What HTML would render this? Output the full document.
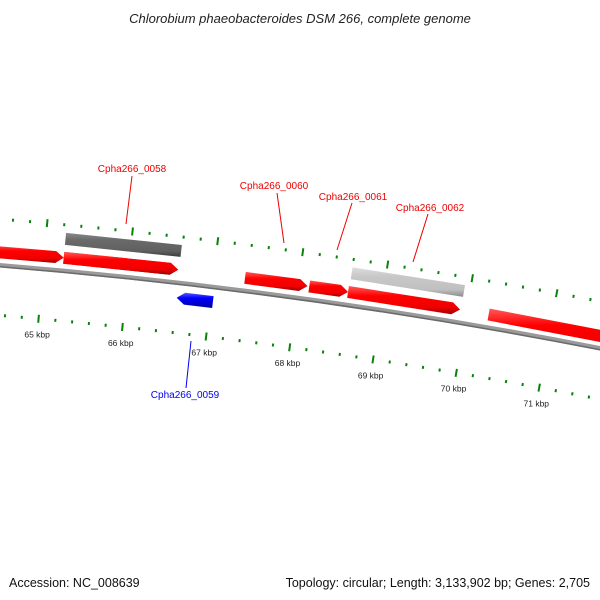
<!DOCTYPE html>
<html><head><meta charset="utf-8"><style>
html,body{margin:0;padding:0;background:#fff}
svg{display:block;font-family:"Liberation Sans","DejaVu Sans",sans-serif}
</style></head><body>
<svg id="chart" width="600" height="600" viewBox="0 0 600 600" xmlns="http://www.w3.org/2000/svg">
<defs>
<linearGradient id="gRed" x1="0" y1="0" x2="0" y2="1"><stop offset="0" stop-color="#ff5a5a"/><stop offset="0.35" stop-color="#ff0000"/><stop offset="0.75" stop-color="#f00000"/><stop offset="1" stop-color="#a00000"/></linearGradient>
<linearGradient id="gBlue" x1="0" y1="0" x2="0" y2="1"><stop offset="0" stop-color="#5a5aff"/><stop offset="0.35" stop-color="#0000ff"/><stop offset="1" stop-color="#0000a0"/></linearGradient>
<linearGradient id="gDark" x1="0" y1="0" x2="0" y2="1"><stop offset="0" stop-color="#8a8a8a"/><stop offset="0.3" stop-color="#6a6a6a"/><stop offset="0.75" stop-color="#606060"/><stop offset="1" stop-color="#3a3a3a"/></linearGradient>
<linearGradient id="gLight" x1="0" y1="0" x2="0" y2="1"><stop offset="0" stop-color="#dddddd"/><stop offset="0.3" stop-color="#c8c8c8"/><stop offset="0.75" stop-color="#c0c0c0"/><stop offset="1" stop-color="#8a8a8a"/></linearGradient>
</defs>
<text x="300" y="23" text-anchor="middle" font-size="13" font-style="italic" fill="#222">Chlorobium phaeobacteroides DSM 266, complete genome</text>
<g id="ticks"></g>
<g id="backbone"></g>
<g id="genes"></g>
<g id="labels"></g>
<text x="9" y="587" font-size="12.5" fill="#111">Accession: NC_008639</text>
<text x="590" y="587" text-anchor="end" font-size="12.5" fill="#111">Topology: circular; Length: 3,133,902 bp; Genes: 2,705</text>
</svg>
<script>
// data
const geneNames = ["gene-a","gene-b","Cpha266_0058","Cpha266_0060","Cpha266_0061","Cpha266_0062","gene-f","Cpha266_0058-hit","Cpha266_0062-hit","Cpha266_0059"];
const geneStart = [64.2,65.23,65.23,67.37,68.13,68.59,70.26,65.23,68.60,66.60];
const geneEnd   = [65.23,66.58,66.58,68.11,68.59,69.92,72.6,66.59,69.93,67.03];
const geneTrack = ["fwd","fwd","fwd","fwd","fwd","fwd","fwd","dark","light","rev"];
const tickLabelKbp = [65,66,67,68,69,70,71];
const labelNames = ["Cpha266_0058","Cpha266_0060","Cpha266_0061","Cpha266_0062","Cpha266_0059"];
const labelKbp = [66.0,67.55,68.25,69.2,66.85];

const NS="http://www.w3.org/2000/svg";
const CX=-445.8, CY=5698, R=5451, PHI0=0.0898, DPHI=0.0156;
function phi(k){return PHI0+(k-65)*DPHI;}
function pt(r,p){return [CX+r*Math.sin(p), CY-r*Math.cos(p)];}
function mk(tag,attrs,parent){const e=document.createElementNS(NS,tag);for(const a in attrs)e.setAttribute(a,attrs[a]);parent.appendChild(e);return e;}

// ticks
const tg=document.getElementById('ticks');
[[R-50,'inner'],[R+46,'outer']].forEach(([r,nm])=>{
  for(let i=0;i<=60;i++){
    const k=63+i*0.2; const major=(i%5===0); const p=phi(k);
    const L=major?4:1.5;
    const a=pt(r-L,p), b=pt(r+L,p);
    const ln=mk('line',{x1:a[0],y1:a[1],x2:b[0],y2:b[1],stroke:'#0a820a','stroke-width':2},tg);
    
    
  }
});
tickLabelKbp.forEach(k=>{
  const p=pt(R-66,phi(k));
  const t=mk('text',{x:p[0],y:p[1]+3,'text-anchor':'middle','font-size':8.5,fill:'#222'},tg);
  t.textContent=k+' kbp';
  
  
});

// backbone
const bg=document.getElementById('backbone');
function arc(r,k1,k2){const a=pt(r,phi(k1)),b=pt(r,phi(k2));return `M${a[0]},${a[1]} A${r},${r} 0 0 1 ${b[0]},${b[1]}`;}
const bb=mk('path',{d:arc(R,62,74),stroke:'#9a9a9a','stroke-width':4.5,fill:'none'},bg);


mk('path',{d:arc(R-1.5,62,74),stroke:'#6a6a6a','stroke-width':1.5,fill:'none'},bg);

// genes
const gg=document.getElementById('genes');
const trackR={fwd:R+13,dark:R+32,light:R+32,rev:R-15};
const trackFill={fwd:'url(#gRed)',dark:'url(#gDark)',light:'url(#gLight)',rev:'url(#gBlue)'};
geneNames.forEach((n,i)=>{
  const t=geneTrack[i], r0=trackR[t], h=6;
  const p1=phi(geneStart[i]), p2=phi(geneEnd[i]);
  let pts;
  if(t==='fwd'){
    const pa=p2-8/r0;
    pts=[pt(r0+h,p1),pt(r0+h,pa),pt(r0,p2),pt(r0-h,pa),pt(r0-h,p1)];
  }else if(t==='rev'){
    const pa=p1+8/r0;
    pts=[pt(r0,p1),pt(r0+h,pa),pt(r0+h,p2),pt(r0-h,p2),pt(r0-h,pa)];
  }else{
    pts=[pt(r0+h,p1),pt(r0+h,p2),pt(r0-h,p2),pt(r0-h,p1)];
  }
  const pg=mk('polygon',{points:pts.map(q=>q.join(',')).join(' '),fill:trackFill[t]},gg);
  
  
});

// labels
const lg=document.getElementById('labels');
const labelPos=[[132,172,126,224,132,176],[274,189,284,243,277,193],[353,200,337,250,352,203],[430,211,413,262,428,214],[185,398,191,341,186,388]];
labelNames.forEach((n,i)=>{
  const isRev=n==='Cpha266_0059'; const col=isRev?'#0000ee':'#ee0000';
  const lp=labelPos[i];
  const l=mk('line',{x1:lp[2],y1:lp[3],x2:lp[4],y2:lp[5],stroke:col,'stroke-width':1},lg);
  
  
  const t=mk('text',{x:lp[0],y:lp[1],'text-anchor':'middle','font-size':10,fill:col},lg);
  t.textContent=n;
  
  
});
</script>
</body></html>
